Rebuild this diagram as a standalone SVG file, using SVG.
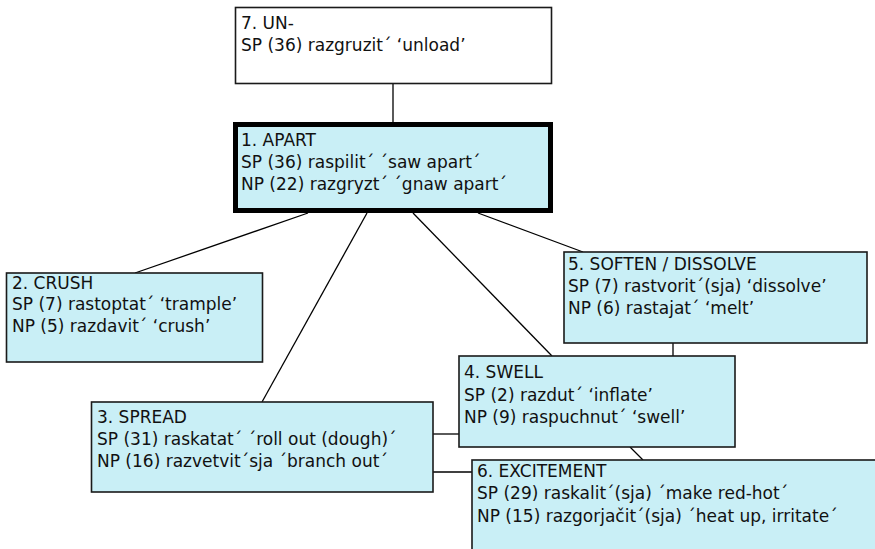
<svg xmlns="http://www.w3.org/2000/svg" width="875" height="549" viewBox="0 0 875 549">
  <style>
    .box { fill: #c9eff6; stroke: #1a1a1a; stroke-width: 1.6; }
    .plain { fill: #ffffff; stroke: #1a1a1a; stroke-width: 1.6; }
    .main { fill: #c9eff6; stroke: #000000; stroke-width: 5; }
    .edge { stroke: #000000; stroke-width: 1.3; fill: none; }
    text { font-family: "DejaVu Sans", "Noto Sans", sans-serif; font-size: 17px; fill: #111111; }
  </style>
  <rect width="875" height="549" fill="#ffffff"/>

  <!-- connectors, drawn beneath the boxes -->
  <g id="connectors">
    <line class="edge" x1="393" y1="84" x2="393" y2="122"/>
    <line class="edge" x1="308" y1="213" x2="135" y2="273"/>
    <line class="edge" x1="367" y1="213" x2="262" y2="402"/>
    <line class="edge" x1="413" y1="213" x2="552" y2="356"/>
    <line class="edge" x1="478" y1="213" x2="583" y2="252"/>
    <line class="edge" x1="673" y1="343" x2="673" y2="356"/>
    <line class="edge" x1="630" y1="447" x2="643" y2="460"/>
    <line class="edge" x1="433" y1="434" x2="459" y2="434"/>
    <line class="edge" x1="433" y1="472" x2="472" y2="472"/>
  </g>

  <g id="node7">
    <rect class="plain" x="235.5" y="7.5" width="316" height="76"/>
    <text x="241" y="29">7. UN-</text>
    <text x="241" y="51">SP (36) razgruzit´ ‘unload’</text>
  </g>

  <g id="node1">
    <rect class="main" x="235.5" y="124.5" width="315" height="86"/>
    <text x="241" y="146">1. APART</text>
    <text x="241" y="168">SP (36) raspilit´ ´saw apart´</text>
    <text x="241" y="190">NP (22) razgryzt´ ´gnaw apart´</text>
  </g>

  <g id="node2">
    <rect class="box" x="6.5" y="273" width="256" height="89"/>
    <text x="12" y="289">2. CRUSH</text>
    <text x="12" y="310">SP (7) rastoptat´ ‘trample’</text>
    <text x="12" y="332">NP (5) razdavit´ ‘crush’</text>
  </g>

  <g id="node3">
    <rect class="box" x="91.5" y="402" width="341.5" height="90"/>
    <text x="97" y="423">3. SPREAD</text>
    <text x="97" y="445">SP (31) raskatat´ ´roll out (dough)´</text>
    <text x="97" y="467">NP (16) razvetvit´sja ´branch out´</text>
  </g>

  <g id="node5">
    <rect class="box" x="564" y="252" width="303" height="91"/>
    <text x="568" y="270">5. SOFTEN / DISSOLVE</text>
    <text x="568" y="292">SP (7) rastvorit´(sja) ‘dissolve’</text>
    <text x="568" y="314">NP (6) rastajat´ ‘melt’</text>
  </g>

  <g id="node4">
    <rect class="box" x="459" y="356" width="276" height="91"/>
    <text x="464" y="378">4. SWELL</text>
    <text x="464" y="401">SP (2) razdut´ ‘inflate’</text>
    <text x="464" y="423">NP (9) raspuchnut´ ‘swell’</text>
  </g>

  <g id="node6">
    <rect class="box" x="472" y="460" width="420" height="120"/>
    <text x="477" y="477">6. EXCITEMENT</text>
    <text x="477" y="499">SP (29) raskalit´(sja) ´make red-hot´</text>
    <text x="477" y="522">NP (15) razgorjačit´(sja) ´heat up, irritate´</text>
  </g>
</svg>
